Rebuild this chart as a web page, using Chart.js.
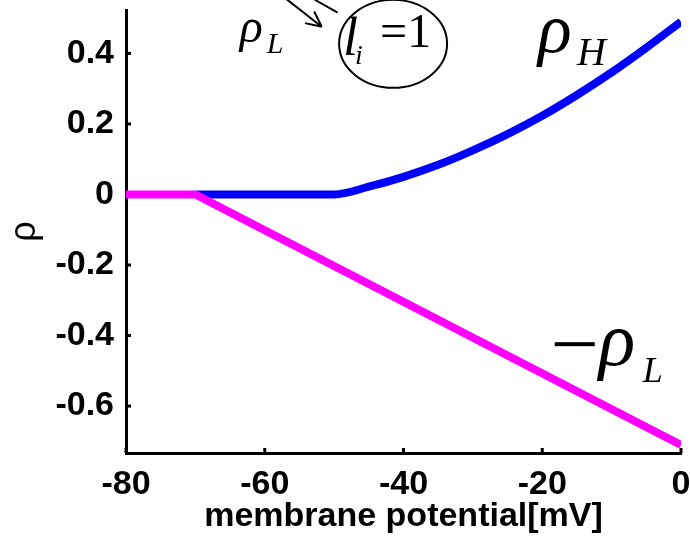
<!DOCTYPE html>
<html>
<head>
<meta charset="utf-8">
<script src="https://cdn.jsdelivr.net/npm/chart.js@4.4.1/dist/chart.umd.min.js"></script>
<style>
  html, body { margin: 0; padding: 0; background: #fff; }
  #wrap { width: 690px; height: 537px; }
</style>
</head>
<body>
<div id="wrap"><canvas id="rhoChart" width="690" height="537"></canvas></div>
<script>
// membrane potential (mV) and rho values
var xHigh = [-70, -50, -45, -40, -35, -30, -25, -20, -15, -10, -5, 0];
var rhoHigh = [0, 0, 0.022, 0.05, 0.084, 0.125, 0.171, 0.223, 0.282, 0.346, 0.416, 0.49];
var xLow = [-80, -70, 0];
var rhoLowNeg = [0, 0, -0.71];
var xTicks = [-80, -60, -40, -20, 0];
var yTicks = [-0.6, -0.4, -0.2, 0, 0.2, 0.4];

function toPoints(xs, ys) {
    return xs.map(function (x, i) { return { x: x, y: ys[i] }; });
}

var sansFont = "'Liberation Sans', Arial, Helvetica, sans-serif";
var serifFont = "'Liberation Serif', 'Times New Roman', serif";

// inward tick marks like the original figure
var innerTicks = {
    id: 'innerTicks',
    beforeDatasetsDraw: function (chart) {
        var ctx = chart.ctx, xs = chart.scales.x, ys = chart.scales.y;
        var area = chart.chartArea;
        ctx.save();
        ctx.strokeStyle = '#000';
        ctx.lineWidth = 3;
        xTicks.forEach(function (v) {
            var px = xs.getPixelForValue(v);
            ctx.beginPath();
            ctx.moveTo(px, area.bottom);
            ctx.lineTo(px, area.bottom - 5);
            ctx.stroke();
        });
        yTicks.forEach(function (v) {
            var py = ys.getPixelForValue(v);
            ctx.beginPath();
            ctx.moveTo(area.left, py);
            ctx.lineTo(area.left + 5, py);
            ctx.stroke();
        });
        ctx.restore();
    }
};

// text labels drawn on the plot (rho_H, -rho_L, and the l_i = 1 note)
var notes = {
    id: 'notes',
    afterDraw: function (chart) {
        var ctx = chart.ctx, xs = chart.scales.x, ys = chart.scales.y;
        ctx.save();
        ctx.fillStyle = '#000';
        ctx.strokeStyle = '#000';
        ctx.textBaseline = 'alphabetic';
        ctx.textAlign = 'left';

        // rho_H
        var hx = xs.getPixelForValue(-20.6), hy = ys.getPixelForValue(0.404);
        ctx.font = 'italic 70px ' + serifFont;
        ctx.fillText('ρ', hx, hy);
        ctx.font = 'italic 40px ' + serifFont;
        ctx.fillText('H', hx + 39, hy + 13);

        // -rho_L
        var lx = xs.getPixelForValue(-18.2), ly = ys.getPixelForValue(-0.484);
        ctx.fillRect(lx, ly - 23, 40, 4);
        ctx.font = 'italic 76px ' + serifFont;
        ctx.fillText('ρ', lx + 44, ly);
        ctx.font = 'italic 36px ' + serifFont;
        ctx.fillText('L', lx + 88, ly + 17);

        // rho_L with arrow
        var px = xs.getPixelForValue(-63.9), py = ys.getPixelForValue(0.433);
        ctx.font = 'italic 48px ' + serifFont;
        ctx.fillText('ρ', px + 2, py);
        ctx.font = 'italic 30px ' + serifFont;
        ctx.fillText('L', px + 29, py + 11);

        ctx.lineWidth = 2;
        var ax0 = px + 47, ay0 = py - 44, ax1 = px + 84, ay1 = py - 15;
        ctx.beginPath();
        ctx.moveTo(ax0, ay0);
        ctx.lineTo(ax1, ay1);
        var ang = Math.atan2(ay1 - ay0, ax1 - ax0);
        [0.45, -0.45].forEach(function (d) {
            ctx.moveTo(ax1, ay1);
            ctx.lineTo(ax1 - 17 * Math.cos(ang + d), ay1 - 17 * Math.sin(ang + d));
        });
        ctx.moveTo(px + 77, py - 42);
        ctx.lineTo(px + 100, py - 29);
        ctx.stroke();

        // ellipse with l_i = 1
        var ex = xs.getPixelForValue(-41.5), ey = ys.getPixelForValue(0.427);
        ctx.beginPath();
        ctx.ellipse(ex, ey, 54, 44, 0, 0, Math.PI * 2);
        ctx.stroke();
        ctx.font = 'italic 54px ' + serifFont;
        ctx.fillText('l', ex - 50, ey + 11);
        ctx.font = 'italic 28px ' + serifFont;
        ctx.fillText('i', ex - 38, ey + 20);
        ctx.font = '48px ' + serifFont;
        ctx.fillText('=1', ex - 13, ey + 3);
        ctx.restore();
    }
};

var ctx = document.getElementById('rhoChart').getContext('2d');
var chart = new Chart(ctx, {
    type: 'line',
    data: {
        datasets: [{
            label: '-rho_L',
            data: toPoints(xLow, rhoLowNeg),
            borderColor: '#ff00ff',
            borderWidth: 8,
            pointRadius: 0,
            tension: 0,
            fill: false
        }, {
            label: 'rho_H',
            data: toPoints(xHigh, rhoHigh),
            borderColor: '#0000ff',
            borderWidth: 8,
            pointRadius: 0,
            cubicInterpolationMode: 'monotone',
            fill: false
        }]
    },
    options: {
        responsive: false,
        animation: false,
        layout: { padding: { top: 10, right: 9, left: 0, bottom: 0 } },
        plugins: {
            legend: { display: false },
            tooltip: { enabled: false }
        },
        scales: {
            x: {
                type: 'linear',
                min: -80,
                max: 0,
                grid: { display: false },
                border: { display: true, color: '#000', width: 3 },
                ticks: {
                    stepSize: 20,
                    color: '#000',
                    padding: 3,
                    font: { family: sansFont, size: 34, weight: 'bold' },
                    callback: function (v) { return String(v); }
                },
                title: {
                    display: true,
                    text: 'membrane potential[mV]',
                    color: '#000',
                    padding: 0,
                    font: { family: sansFont, size: 34, weight: 'bold' }
                },
                afterFit: function (s) { s.height = 84; s.paddingLeft = 0; s.paddingRight = 0; }
            },
            y: {
                min: -0.733,
                max: 0.523,
                grid: { display: false },
                border: { display: true, color: '#000', width: 3 },
                ticks: {
                    stepSize: 0.2,
                    includeBounds: false,
                    color: '#000',
                    padding: 4,
                    font: { family: sansFont, size: 34, weight: 'bold' },
                    callback: function (v) { return String(Number(v.toFixed(1))); }
                },
                title: {
                    display: true,
                    text: 'ρ',
                    color: '#000',
                    padding: { top: 3, bottom: 0 },
                    font: { family: sansFont, size: 36 }
                },
                afterFit: function (s) { s.width = 126; s.paddingTop = 0; s.paddingBottom = 0; }
            }
        }
    },
    plugins: [innerTicks, notes]
});
</script>
</body>
</html>
